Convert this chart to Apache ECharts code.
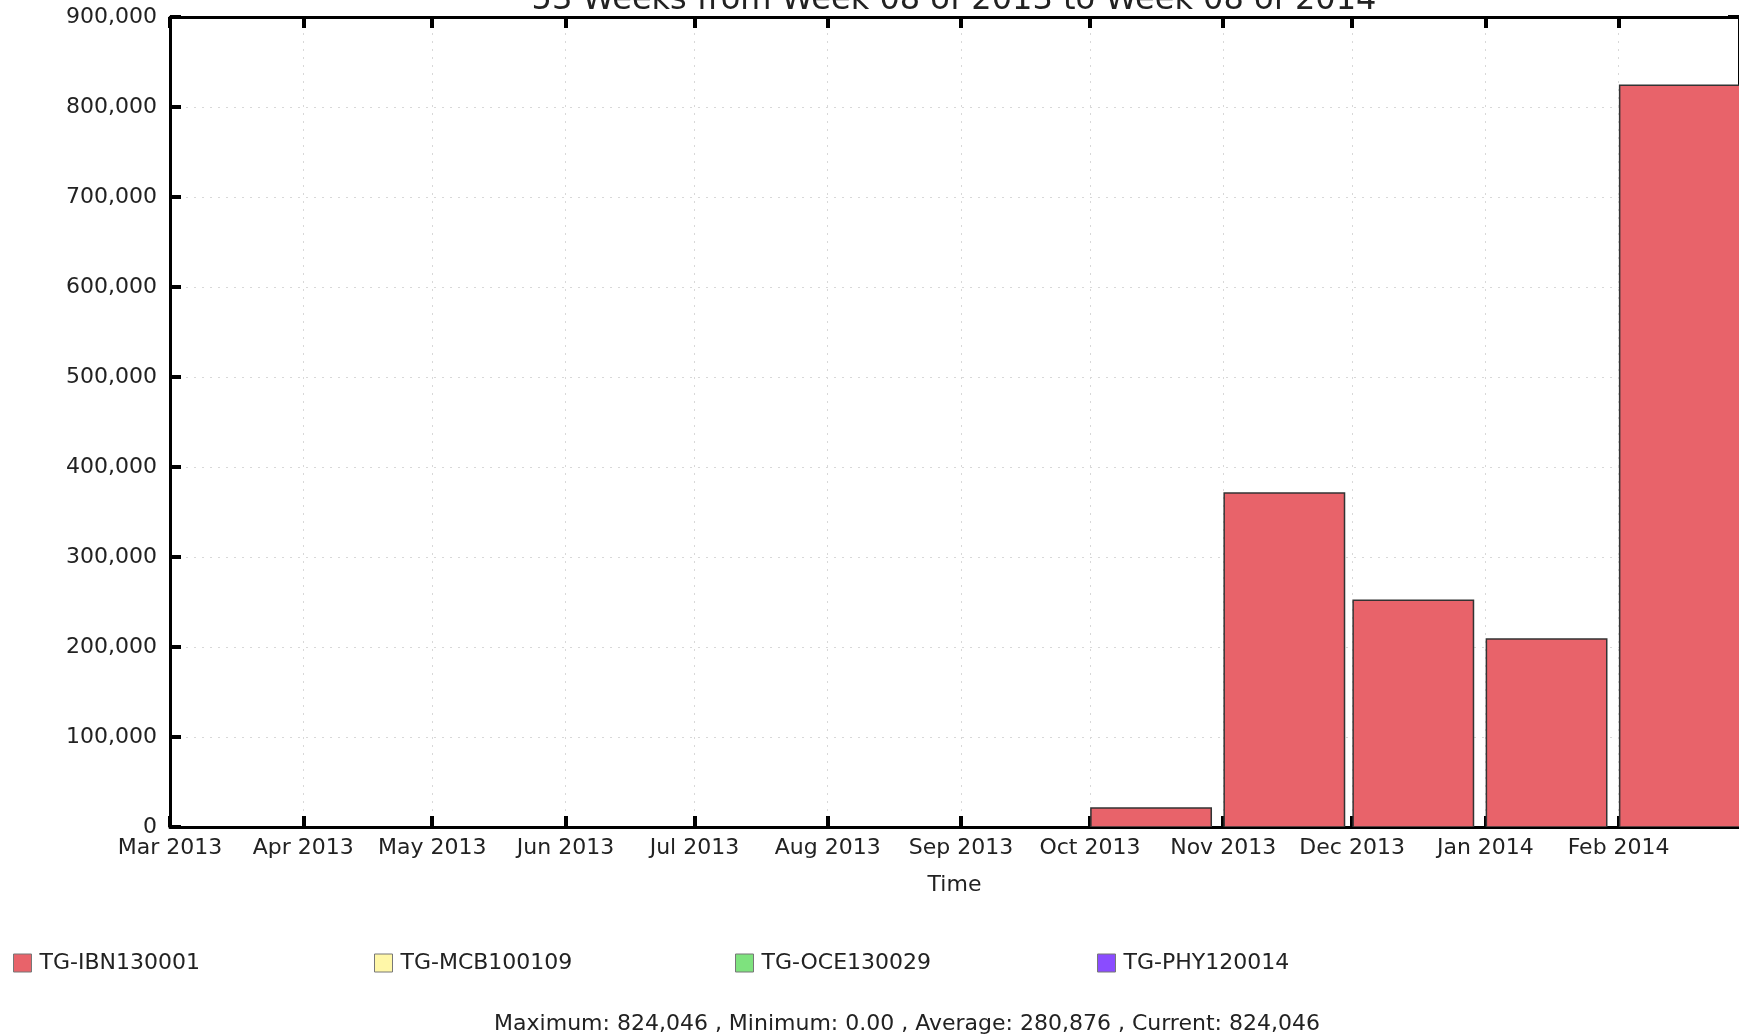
<!DOCTYPE html>
<html><head><meta charset="utf-8">
<script src="https://cdn.jsdelivr.net/npm/echarts@6/dist/echarts.min.js"></script>
<style>html,body{margin:0;padding:0;background:#fff}#c{width:1739px;height:1035px}</style>
</head><body><div id="c"></div>
<script>
// ---- data ----
const monthStarts = ['2013-03','2013-04','2013-05','2013-06','2013-07','2013-08','2013-09','2013-10','2013-11','2013-12','2014-01','2014-02'];
const axisEnd = '2014-03';
const tickLabels = ['Mar 2013','Apr 2013','May 2013','Jun 2013','Jul 2013','Aug 2013','Sep 2013','Oct 2013','Nov 2013','Dec 2013','Jan 2014','Feb 2014'];
const seriesNames = ['TG-IBN130001','TG-MCB100109','TG-OCE130029','TG-PHY120014'];
const seriesColors = ['#e8636a','#fff7a8','#7ee27e','#8a4cff'];
const ibn130001 = [0,0,0,0,0,0,0,21000,371000,252000,209000,824046];
const mcb100109 = [0,0,0,0,0,0,0,0,0,0,0,0];
const oce130029 = [0,0,0,0,0,0,0,0,0,0,0,0];
const phy120014 = [0,0,0,0,0,0,0,0,0,0,0,0];
const titleText = '53 Weeks from Week 08 of 2013 to Week 08 of 2014';
const axisTitle = 'Time';
const statsText = 'Maximum: 824,046 , Minimum: 0.00 , Average: 280,876 , Current: 824,046';

// ---- build ----
const DAY = 86400000;
const BAR_DAYS = 28;
function ts(s){ const p = s.split('-').map(Number); return Date.UTC(p[0], p[1]-1, 1); }
const monthTs = monthStarts.map(ts);
const xMin = monthTs[0], xMax = ts(axisEnd);
const allSeries = [ibn130001, mcb100109, oce130029, phy120014];
const FONT = 'DejaVu Sans';
const TXT = '#222';
const FS = 22;

function renderBar(params, api){
  const x0 = api.value(0), lo = api.value(1), hi = api.value(2);
  if (!(hi > lo)) return null;
  const p0 = api.coord([x0, lo]);
  const p1 = api.coord([x0 + BAR_DAYS*DAY, hi]);
  return {
    type: 'rect',
    shape: { x: p0[0] + 1, y: p1[1], width: p1[0] - p0[0], height: p0[1] - p1[1] },
    style: { fill: api.visual('color'), stroke: '#333', lineWidth: 1.5 }
  };
}

const base = monthTs.map(() => 0);
const series = allSeries.map((vals, si) => {
  const data = vals.map((v, i) => { const lo = base[i]; base[i] += v; return [monthTs[i], lo, lo + v]; });
  return {
    type: 'custom', name: seriesNames[si], renderItem: renderBar, clip: true,
    itemStyle: { color: seriesColors[si] },
    encode: { x: 0, y: [1, 2] }, data: data, z: 3
  };
});

const legendLeft = [13, 374, 735, 1097];
const legends = seriesNames.map((n, i) => ({
  data: [n], left: legendLeft[i], top: 952, padding: 0, icon: 'rect', itemWidth: 18, itemHeight: 18,
  itemStyle: { borderColor: '#777', borderWidth: 1 },
  textStyle: { fontFamily: FONT, fontSize: FS, color: TXT, padding: [0, 0, 0, 3] },
  selectedMode: false
}));

const axisLineStyle = { color: '#000', width: 3 };
const tickStyle = { show: true, inside: true, length: 11, lineStyle: { color: '#000', width: 4 } };
const gridLine = { show: true, lineStyle: { type: [2, 6], color: '#d8d8d8', width: 1 } };

const option = {
  animation: false,
  backgroundColor: '#fff',
  grid: { left: 170, right: 0, top: 17, bottom: 208, containLabel: false },
  legend: legends,
  xAxis: [{
    type: 'value', min: xMin, max: xMax, position: 'bottom',
    axisLine: { show: true, onZero: false, lineStyle: axisLineStyle },
    axisTick: Object.assign({ customValues: monthTs }, tickStyle),
    axisLabel: { customValues: monthTs, fontFamily: FONT, fontSize: FS, color: TXT, margin: 10,
      formatter: v => { const i = monthTs.findIndex(t => Math.abs(t - v) < DAY); return i >= 0 ? tickLabels[i] : ''; } },
    splitLine: gridLine,
    name: axisTitle, nameLocation: 'middle', nameGap: 47,
    nameTextStyle: { fontFamily: FONT, fontSize: FS, color: TXT }
  }, {
    type: 'value', min: xMin, max: xMax, position: 'top',
    axisLine: { show: true, onZero: false, lineStyle: axisLineStyle },
    axisTick: Object.assign({ customValues: monthTs }, tickStyle),
    axisLabel: { show: false }, splitLine: { show: false }
  }],
  yAxis: [{
    type: 'value', min: 0, max: 900000, interval: 100000, position: 'left',
    axisLine: { show: true, onZero: false, lineStyle: axisLineStyle },
    axisTick: tickStyle,
    axisLabel: { fontFamily: FONT, fontSize: FS, color: TXT, margin: 13,
      formatter: v => v.toLocaleString('en-US') },
    splitLine: gridLine
  }, {
    type: 'value', min: 0, max: 900000, interval: 100000, position: 'right',
    axisLine: { show: true, onZero: false, lineStyle: axisLineStyle },
    axisTick: tickStyle,
    axisLabel: { show: false }, splitLine: { show: false }
  }],
  graphic: [
    { type: 'text', x: 954, y: 17, z: 10, style: { text: titleText, fontFamily: FONT, fontSize: 32, fill: TXT, align: 'center', verticalAlign: 'bottom' } },
    { type: 'text', x: 907, y: 1024, z: 10, style: { text: statsText, fontFamily: FONT, fontSize: FS, fill: TXT, align: 'center', verticalAlign: 'middle' } }
  ],
  series: series
};

const chart = echarts.init(document.getElementById('c'), null, { renderer: 'canvas' });
chart.setOption(option);
</script>
</body></html>
